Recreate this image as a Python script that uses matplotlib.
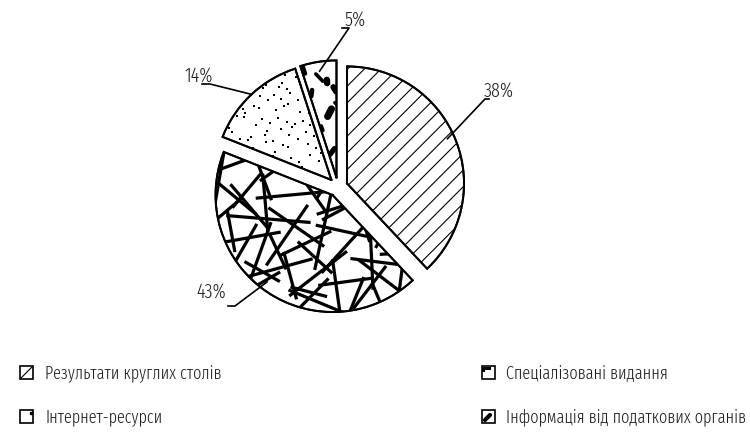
import numpy as np
import matplotlib
matplotlib.use("Agg")
import matplotlib.pyplot as plt
from matplotlib.patches import Rectangle

# Sources of information (shares, %)
categories = ["Результати круглих столів", "Спеціалізовані видання",
              "Інтернет-ресурси", "Інформація від податкових органів"]
shares = [38, 43, 14, 5]
labels = ["38%", "43%", "14%", "5%"]

W, H = 750, 439
FONT = ["Fira Sans Extra Condensed", "PT Sans Narrow", "DejaVu Sans"]
plt.rcParams["font.family"] = FONT
plt.rcParams["font.weight"] = 300
plt.rcParams["hatch.linewidth"] = 0.8
TEXT_COLOR = "#231f20"

fig = plt.figure(figsize=(W / 100, H / 100), dpi=100)
ax = fig.add_axes([0, 0, 1, 1])

CX, CY, R = 338, H - 188, 117
GAP = 9.7  # radial offset of every slice, px

wedges, _ = ax.pie(shares, startangle=90, counterclock=False, radius=R,
                   center=(CX, CY), explode=[GAP] * 4,
                   colors=["white"] * 4,
                   wedgeprops=dict(edgecolor="black", linewidth=1.4))
ax.set_xlim(0, W)
ax.set_ylim(0, H)
ax.set_aspect("equal")
ax.axis("off")


def wedge_geom(w):
    """Apex, radius and angular span of an (exploded) wedge."""
    return np.array(w.center), w.r, w.theta1, w.theta2


def halton(i, b):
    f, r = 1.0, 0.0
    while i > 0:
        f /= b
        r += f * (i % b)
        i //= b
    return r


def clipped_segment(w, p, ang_deg, length, **kw):
    a = np.deg2rad(ang_deg)
    d = np.array([np.cos(a), np.sin(a)]) * length / 2
    seg, = ax.plot([p[0] - d[0], p[0] + d[0]], [p[1] - d[1], p[1] + d[1]],
                   color="black", zorder=3, **kw)
    seg.set_clip_path(w)


# slice 1: thin diagonal hatching
wedges[0].set_hatch("//")

# slice 2: long thick crossing strokes
c, r, t1, t2 = wedge_geom(wedges[1])
for k in range(1, 62):
    p = c + np.array([-r + 1.7 * r * halton(k, 2), -r + 1.4 * r * halton(k, 3)])
    ang = (k * 137.508) % 180
    ln = 0.3 * r + 0.5 * r * halton(k, 5)
    clipped_segment(wedges[1], p, ang, ln, lw=2.3, solid_capstyle="butt")

# slice 3: sparse dots
c, r, t1, t2 = wedge_geom(wedges[2])
pts = np.array([c + np.array([-r + r * halton(k, 2), r * halton(k, 3)])
                for k in range(1, 140)])
dots = ax.scatter(pts[:, 0], pts[:, 1], s=2.4, marker="s", color="black",
                  linewidths=0, zorder=3)
dots.set_clip_path(wedges[2])

# slice 4: dark blotches
c, r, t1, t2 = wedge_geom(wedges[3])
for k in range(1, 16):
    p = c + np.array([-0.3 * r + 0.35 * r * halton(k, 2), 0.12 * r + 0.9 * r * halton(k, 3)])
    ang = 40 + (k * 71.0) % 100
    ln = 3 + 8 * halton(k, 5)
    clipped_segment(wedges[3], p, ang, ln, lw=2.5 + 3.0 * halton(k, 7),
                    solid_capstyle="round")

# slice outlines on top of the textures
for w in wedges:
    c, r, t1, t2 = wedge_geom(w)
    th = np.deg2rad(np.linspace(t1, t2, 160))
    xs = np.r_[c[0], c[0] + r * np.cos(th), c[0]]
    ys = np.r_[c[1], c[1] + r * np.sin(th), c[1]]
    ax.plot(xs, ys, color="black", lw=1.4, zorder=4, solid_joinstyle="miter")

# percentage labels with leader lines
# (angle on the slice, relative radius, elbow point, stub end, text anchor, ha)
leaders = [
    (24, 0.94, (485, 100), (489, 100), (484, 97), "left"),
    (-127, 0.93, (235, 307), (228, 307), (226, 298), "right"),
    (133, 1.0, (210, 85), (202, 85), (213, 82), "right"),
    (99, 0.92, (349, 29), (342, 29), (345, 26), "left"),
]
label_texts = []
for w, lab, (a, rr, elbow, stub, tpos, ha) in zip(wedges, labels, leaders):
    c, r, t1, t2 = wedge_geom(w)
    p = c + rr * r * np.array([np.cos(np.deg2rad(a)), np.sin(np.deg2rad(a))])
    ax.plot([p[0], elbow[0], stub[0]], [p[1], H - elbow[1], H - stub[1]],
            color="black", lw=1.2, zorder=5)
    label_texts.append(ax.text(tpos[0], H - tpos[1], lab, ha=ha, va="baseline",
                               fontsize=14, color=TEXT_COLOR, zorder=6))

# legend
legend_pos = [(20, 373.5, 45), (482, 373.5, 506), (20, 417.5, 45), (482, 417.5, 506)]
legend_texts = []
for i, (cat, (ix, iy, tx)) in enumerate(zip(categories, legend_pos)):
    x0, y0 = ix, H - iy - 6.5
    ax.add_patch(Rectangle((x0, y0), 13, 13, facecolor="white",
                           edgecolor="black", lw=1.2, zorder=3))
    if i == 0:
        ax.plot([x0 + 1, x0 + 12], [y0 + 1, y0 + 12], color="black", lw=0.8, zorder=4)
    elif i == 1:
        ax.plot([x0 + 1.5, x0 + 1.5, x0 + 7], [y0 + 9, y0 + 11.5, y0 + 11.5],
                color="black", lw=2.2, zorder=4)
    elif i == 2:
        ax.plot([x0 + 10.5], [y0 + 10.5], marker="s", ms=1.5, color="black", zorder=4)
    else:
        ax.plot([x0 + 3, x0 + 8], [y0 + 3, y0 + 8], color="black", lw=3.0,
                solid_capstyle="round", zorder=4)
    legend_texts.append(ax.text(tx, H - iy, cat, ha="left", va="center",
                                fontsize=13, color=TEXT_COLOR))

# size the type: first legend entry ~187 px wide, the longest one must end
# before the right edge, "38%" ~30 px wide
fig.canvas.draw()
rend = fig.canvas.get_renderer()
k_leg = min(187 / legend_texts[0].get_window_extent(rend).width,
            (W - 4 - legend_pos[3][2]) / legend_texts[3].get_window_extent(rend).width)
for t in legend_texts:
    t.set_fontsize(t.get_fontsize() * k_leg)
k_lab = 30 / label_texts[0].get_window_extent(rend).width
for t in label_texts:
    t.set_fontsize(t.get_fontsize() * k_lab)

fig.savefig("out.png", dpi=100)
